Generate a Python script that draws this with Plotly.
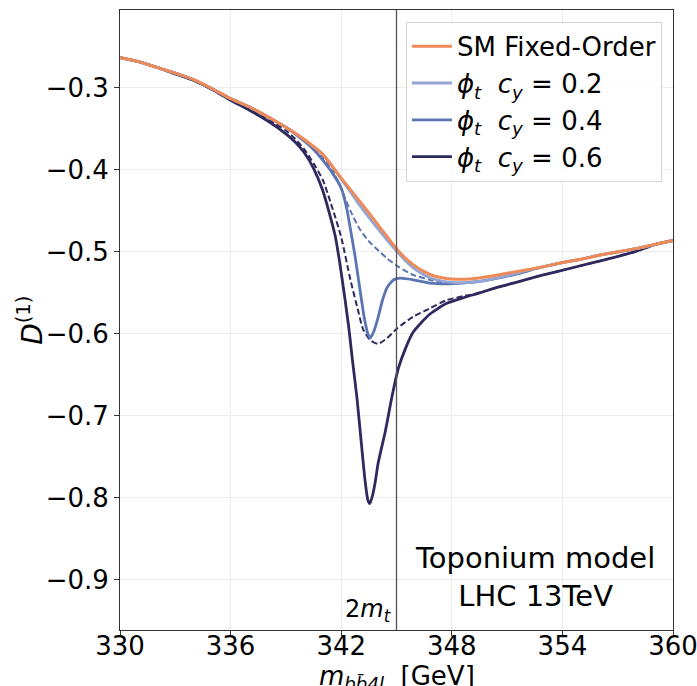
import plotly.graph_objects as go

# ---------------- data ----------------
sm_x = [330, 331, 332, 333, 334, 335, 336, 337, 338, 339, 340, 341, 342, 343, 344, 345,
        345.5, 346, 346.5, 347, 348, 349, 350, 351, 352, 353, 354, 355, 356, 357, 358, 359, 360]
sm_y = [-0.263, -0.268, -0.275, -0.282, -0.290, -0.301, -0.313, -0.323, -0.335, -0.348, -0.363,
        -0.381, -0.410, -0.438, -0.467, -0.496, -0.508, -0.517, -0.524, -0.529, -0.533, -0.533,
        -0.530, -0.526, -0.522, -0.518, -0.513, -0.509, -0.504, -0.500, -0.496, -0.491, -0.486]

c02_x = [330, 331, 332, 333, 334, 335, 336, 337, 338, 339, 340, 341, 342, 342.5, 343, 343.5,
         344, 344.5, 345, 345.5, 346, 346.5, 347, 348, 349, 350, 351, 352, 353, 354, 355, 356,
         357, 358, 359, 360]
c02_y = [-0.263, -0.268, -0.275, -0.282, -0.290, -0.301, -0.313, -0.323, -0.335, -0.348, -0.363,
         -0.381, -0.411, -0.427, -0.443, -0.458, -0.472, -0.486, -0.499, -0.511, -0.521, -0.528,
         -0.533, -0.537, -0.537, -0.534, -0.529, -0.523, -0.518, -0.513, -0.509, -0.504, -0.500,
         -0.496, -0.491, -0.486]

c04_x = [330, 331, 332, 333, 334, 335, 336, 337, 338, 339, 340, 340.5, 341, 341.5, 342, 342.3,
         342.5, 342.75, 343, 343.25, 343.45, 343.57, 343.75, 344, 344.25, 344.5, 344.85, 345.2,
         345.9, 346.8, 347.7, 348.6, 349.5, 350.5, 351.5, 352.8, 354, 355, 356, 357, 358, 359, 360]
c04_y = [-0.263, -0.268, -0.275, -0.282, -0.290, -0.301, -0.313, -0.323, -0.335, -0.348, -0.365,
         -0.375, -0.388, -0.403, -0.422, -0.447, -0.472, -0.505, -0.543, -0.580, -0.600, -0.605,
         -0.598, -0.580, -0.558, -0.543, -0.534, -0.532, -0.534, -0.538, -0.539, -0.538, -0.536,
         -0.532, -0.527, -0.519, -0.513, -0.509, -0.504, -0.500, -0.496, -0.491, -0.486]

c04d_x = [330, 331, 332, 333, 334, 335, 336, 337, 338, 339, 340, 341, 341.5, 342, 342.5, 343,
          343.5, 344, 344.5, 345.1, 345.9, 346.8, 347.7, 348.6, 349.5, 350.5, 351.5, 352.8, 354,
          355, 356, 357, 358, 359, 360]
c04d_y = [-0.263, -0.268, -0.275, -0.282, -0.290, -0.301, -0.313, -0.323, -0.335, -0.348, -0.364,
          -0.384, -0.399, -0.423, -0.450, -0.472, -0.487, -0.498, -0.508, -0.518, -0.528, -0.534,
          -0.538, -0.538, -0.536, -0.532, -0.527, -0.519, -0.513, -0.509, -0.504, -0.500, -0.496,
          -0.491, -0.486]

c06_x = [330, 331, 332, 333, 334, 335, 336, 337, 338, 339, 339.5, 340, 340.5, 341, 341.3, 341.67,
         342, 342.4, 342.6, 342.85, 343.1, 343.3, 343.45, 343.55, 343.7, 343.85, 344, 344.4,
         344.75, 345.1, 345.5, 345.9, 346.8, 347.7, 348.6, 349.5, 350.5, 351.5, 352.8, 354.6,
         356.4, 357.9, 359, 360]
c06_y = [-0.263, -0.268, -0.275, -0.283, -0.291, -0.302, -0.315, -0.327, -0.340, -0.356, -0.366,
         -0.379, -0.398, -0.425, -0.448, -0.480, -0.525, -0.590, -0.630, -0.677, -0.735, -0.780,
         -0.803, -0.807, -0.797, -0.780, -0.758, -0.718, -0.677, -0.642, -0.617, -0.598, -0.576,
         -0.563, -0.556, -0.550, -0.543, -0.537, -0.529, -0.519, -0.509, -0.500, -0.491, -0.486]

c06d_x = [330, 331, 332, 333, 334, 335, 336, 337, 338, 339, 339.5, 340, 340.5, 341, 341.5, 342,
          342.5, 342.9, 343.2, 343.6, 344, 344.5, 345, 345.9, 346.8, 347.7, 348.6, 349.5, 350.5,
          351.5, 352.8, 354.6, 356.4, 357.9, 359, 360]
c06d_y = [-0.263, -0.268, -0.275, -0.283, -0.291, -0.302, -0.314, -0.326, -0.338, -0.352, -0.362,
          -0.375, -0.392, -0.412, -0.445, -0.482, -0.534, -0.570, -0.595, -0.608, -0.612, -0.605,
          -0.594, -0.579, -0.569, -0.559, -0.554, -0.550, -0.543, -0.537, -0.529, -0.519, -0.509,
          -0.500, -0.491, -0.486]

two_mt = 345.0
x_ticks = [330, 336, 342, 348, 354, 360]
y_ticks = [-0.3, -0.4, -0.5, -0.6, -0.7, -0.8, -0.9]

# ---------------- styling ----------------
ORANGE = "#EE8A57"
LIGHT = "#93A5D3"
MED = "#5B74B2"
DARK = "#2E2A5E"
FONT = "DejaVu Sans"

fig = go.Figure()

def add(x, y, name, color, width, dash="solid", show=True, rank=1000):
    fig.add_trace(go.Scatter(
        x=x, y=y, mode="lines", name=name, showlegend=show, legendrank=rank,
        line=dict(color=color, width=width, dash=dash, shape="spline", smoothing=0.6),
        hoverinfo="skip"))

add(c06d_x, c06d_y, "", DARK, 2.0, dash="6px,3px", show=False)
add(c04d_x, c04d_y, "", MED, 2.0, dash="6px,3px", show=False)
add(c06_x, c06_y, "<i>ϕ<sub>t</sub></i>  <i>c<sub>y</sub></i> = 0.6", DARK, 2.8, rank=4)
add(c04_x, c04_y, "<i>ϕ<sub>t</sub></i>  <i>c<sub>y</sub></i> = 0.4", MED, 2.8, rank=3)
add(c02_x, c02_y, "<i>ϕ<sub>t</sub></i>  <i>c<sub>y</sub></i> = 0.2", LIGHT, 2.8, rank=2)
add(sm_x, sm_y, "SM Fixed-Order", ORANGE, 3.0, rank=1)

fig.add_shape(type="line", x0=two_mt, x1=two_mt, y0=0, y1=1, xref="x", yref="paper",
              line=dict(color="#555555", width=1.3), layer="above")

fig.add_annotation(x=two_mt, y=0.0, xref="x", yref="paper", xanchor="right", yanchor="bottom",
                   xshift=-3, yshift=2, showarrow=False,
                   text="2<i>m</i><sub><i>t</i></sub>", font=dict(family=FONT, size=24, color="black"))
fig.add_annotation(x=352.5, y=0.085, xref="x", yref="paper", xanchor="center", yanchor="middle",
                   showarrow=False, align="center",
                   text="Toponium model<br>LHC 13TeV", font=dict(family=FONT, size=29, color="black"))

# axis titles as annotations for exact placement
fig.add_annotation(x=0.5, y=-0.077, xref="paper", yref="paper", xanchor="center", yanchor="middle",
                   showarrow=False,
                   text="<i>m</i><sub><i>bb\u03044l</i></sub>  [GeV]",
                   font=dict(family=FONT, size=26, color="black"))
fig.add_annotation(x=-0.163, y=0.5, xref="paper", yref="paper", xanchor="center", yanchor="middle",
                   showarrow=False, textangle=-90,
                   text="<i>D</i><sup>(1)</sup>",
                   font=dict(family=FONT, size=28, color="black"))

axis_common = dict(showgrid=True, gridcolor="#ECECEC", gridwidth=1, zeroline=False,
                   showline=True, linecolor="#333333", linewidth=1, mirror=True,
                   ticks="outside", ticklen=5, tickcolor="#333333", automargin=False,
                   ticklabeloverflow="allow",
                   tickfont=dict(family=FONT, size=26, color="black"))

fig.update_xaxes(range=[330, 360], tickvals=x_ticks, ticktext=[str(v) for v in x_ticks],
                 ticklabelstandoff=-12, **axis_common)
fig.update_yaxes(range=[-0.961, -0.205], tickvals=y_ticks,
                 ticktext=["\u2212" + f"{abs(v):.1f}" for v in y_ticks],
                 **axis_common)

fig.update_layout(
    width=697, height=686,
    margin=dict(l=120, r=24, t=10, b=56),
    paper_bgcolor="white", plot_bgcolor="white",
    font=dict(family=FONT, color="black"),
    legend=dict(x=0.98, y=0.981, xanchor="right", yanchor="top",
                bgcolor="rgba(255,255,255,0.85)", bordercolor="#D5D5D5", borderwidth=1,
                font=dict(family=FONT, size=26, color="black"),
                traceorder="normal", itemwidth=40),
)

fig.write_html("out.html", config={"displayModeBar": False},
               post_script="document.body.style.margin='0';document.body.style.overflow='hidden';")
